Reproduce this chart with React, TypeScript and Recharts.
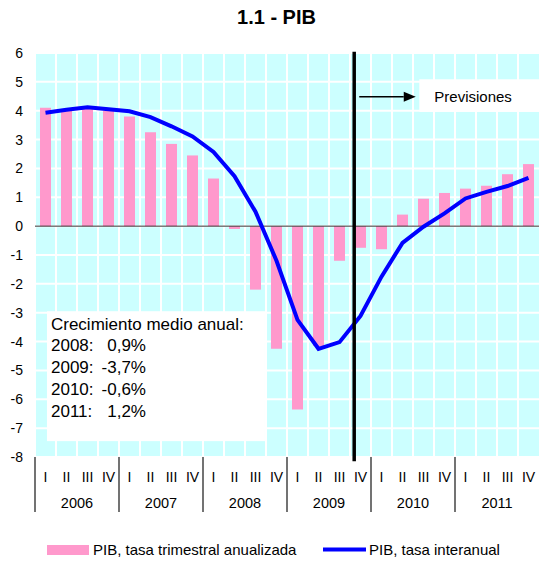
import React from 'react';
import {
  ComposedChart, Bar, Line, XAxis, YAxis, CartesianGrid,
  ReferenceLine, ReferenceArea,
} from 'recharts';

const FONT = '"Liberation Sans", Arial, Helvetica, sans-serif';
const BAR_COLOR  = '#FF99CC';   // tasa trimestral anualizada
const LINE_COLOR = '#0000FF';   // tasa interanual
const BG_COLOR   = '#CCFFFF';

// ── data ──────────────────────────────────────────────────────────────────────

const QUARTERS = ['I', 'II', 'III', 'IV'];
const YEARS = ['2006', '2007', '2008', '2009', '2010', '2011'];

const TRIMESTRAL = [
  4.1, 4.05, 4.1, 4.0,
  3.8, 3.25, 2.85, 2.45,
  1.65, -0.1, -2.2, -4.25,
  -6.35, -4.15, -1.2, -0.75,
  -0.8, 0.4, 0.95, 1.15,
  1.3, 1.4, 1.8, 2.15,
];

const INTERANUAL = [
  3.93, 4.03, 4.12, 4.05,
  3.98, 3.78, 3.46, 3.11,
  2.57, 1.73, 0.5, -1.2,
  -3.25, -4.25, -4.02, -3.11,
  -1.75, -0.58, -0.02, 0.44,
  0.96, 1.19, 1.39, 1.67,
];

const Y_TICKS = [6, 5, 4, 3, 2, 1, 0, -1, -2, -3, -4, -5, -6, -7, -8];

const ANNUAL_YEARS  = ['2008', '2009', '2010', '2011'];
const ANNUAL_GROWTH = ['0,9%', '-3,7%', '-0,6%', '1,2%'];

const SERIES_NAMES = ['PIB, tasa trimestral anualizada', 'PIB, tasa interanual'];

const data = YEARS.flatMap((y, yi) => QUARTERS.map((q, qi) => ({
  q: `${q} ${y}`,
  pos: yi * 4 + qi + 0.5,
  trim: TRIMESTRAL[yi * 4 + qi],
  inter: INTERANUAL[yi * 4 + qi],
})));

// numeric positions on the "num" axis (0 … 24 quarters)
const SEP_TICKS     = YEARS.map((_, i) => i * 4);
const QUARTER_TICKS = data.map(d => d.pos);
const YEAR_TICKS    = YEARS.map((_, i) => i * 4 + 2);
const PERIOD_TICKS  = [...SEP_TICKS, ...QUARTER_TICKS, ...YEAR_TICKS];

const FORECAST_X = 15.2;

// ── custom pieces ─────────────────────────────────────────────────────────────

function PeriodTick({ x, y, payload }: any) {
  const v = payload.value as number;
  if (v % 1 !== 0) {
    return (
      <text x={x} y={y + 24.5} textAnchor="middle" fontSize={14} fontFamily={FONT} fill="#000">
        {QUARTERS[Math.floor(v) % 4]}
      </text>
    );
  }
  if (v % 4 === 0) {
    return <line x1={x} x2={x} y1={y} y2={y + 55} stroke="#444" strokeWidth={1.5} />;
  }
  return (
    <text x={x} y={y + 50.5} textAnchor="middle" fontSize={14.5} fontFamily={FONT} fill="#000">
      {YEARS[(v - 2) / 4]}
    </text>
  );
}

const GrowthBox = (p: any) => (
  <g>
    <rect x={p.x} y={p.y} width={p.width} height={p.height} fill="#fff" />
    <text x={p.x + 4} y={p.y + 18.5} fontSize={17} fontFamily={FONT} fill="#000">
      Crecimiento medio anual:
    </text>
    {ANNUAL_YEARS.map((yr, i) => (
      <g key={yr}>
        <text x={p.x + 4} y={p.y + 40 + i * 22} fontSize={17} fontFamily={FONT} fill="#000">{yr}:</text>
        <text x={p.x + 99} y={p.y + 40 + i * 22} textAnchor="end" fontSize={17} fontFamily={FONT} fill="#000">
          {ANNUAL_GROWTH[i]}
        </text>
      </g>
    ))}
  </g>
);

const ForecastBox = (p: any) => (
  <g>
    <rect x={p.x} y={p.y} width={p.width} height={p.height} fill="#fff" />
    <text x={p.x + 15} y={p.y + 22.4} fontSize={15} fontFamily={FONT} fill="#000">Previsiones</text>
  </g>
);

const Arrow = (p: any) => (
  <g>
    <line x1={p.x1} y1={p.y1} x2={p.x2 - 12} y2={p.y2} stroke="#000" strokeWidth={1.5} />
    <polygon points={`${p.x2},${p.y2} ${p.x2 - 12},${p.y2 - 5} ${p.x2 - 12},${p.y2 + 5}`} fill="#000" />
  </g>
);

// ── component ─────────────────────────────────────────────────────────────────

export default function App() {
  return (
    <div style={{ position: 'absolute', left: 0, top: 0, width: 539, height: 563, background: '#fff' }}>
      <ComposedChart
        width={539}
        height={563}
        data={data}
        margin={{ top: 53, right: 0, bottom: 46, left: 0 }}
        barSize={11}
      >
        <text x={276.5} y={24} textAnchor="middle" fontSize={20} fontWeight="bold" fontFamily={FONT} fill="#000">
          1.1 - PIB
        </text>

        <CartesianGrid
          fill={BG_COLOR}
          fillOpacity={1}
          stroke="#fff"
          strokeWidth={2}
          verticalCoordinatesGenerator={({ offset }: any) =>
            data.map((_, i) => offset.left + (i * offset.width) / data.length)}
        />

        <XAxis dataKey="q" hide height={0} />
        <XAxis
          xAxisId="num"
          dataKey="pos"
          type="number"
          domain={[0, data.length]}
          ticks={PERIOD_TICKS}
          interval={0}
          axisLine={false}
          tickLine={false}
          tickSize={0}
          tickMargin={0}
          height={60}
          tick={<PeriodTick />}
          allowDataOverflow
        />
        <YAxis
          domain={[-8, 6]}
          ticks={Y_TICKS}
          interval={0}
          width={35}
          axisLine={false}
          tickLine={false}
          tickSize={0}
          tickMargin={12}
          tick={{ fontSize: 14, fill: '#000', fontFamily: FONT }}
        />

        <ReferenceArea xAxisId="num" x1={0.57} x2={10.95} y1={-7.45} y2={-2.95} ifOverflow="visible" shape={GrowthBox} />
        <ReferenceArea xAxisId="num" x1={18.3} x2={24} y1={3.96} y2={5.09} ifOverflow="visible" shape={ForecastBox} />

        <ReferenceLine y={0} stroke="#333" strokeWidth={1} />

        <Bar dataKey="trim" fill={BAR_COLOR} isAnimationActive={false} name={SERIES_NAMES[0]} />
        <Line
          type="linear"
          dataKey="inter"
          stroke={LINE_COLOR}
          strokeWidth={4}
          dot={false}
          activeDot={false}
          isAnimationActive={false}
          name={SERIES_NAMES[1]}
        />

        <ReferenceLine
          xAxisId="num"
          segment={[{ x: FORECAST_X, y: 6.04 }, { x: FORECAST_X, y: -8.15 }]}
          stroke="#000"
          strokeWidth={3.5}
          ifOverflow="visible"
        />
        <ReferenceLine
          xAxisId="num"
          segment={[{ x: 15.44, y: 4.48 }, { x: 18.13, y: 4.48 }]}
          ifOverflow="visible"
          shape={Arrow}
        />

        {/* legend */}
        <g fontFamily={FONT} fontSize={15} fill="#000">
          <rect x={47} y={545} width={42} height={10} fill={BAR_COLOR} />
          <text x={93} y={555}>{SERIES_NAMES[0]}</text>
          <line x1={323} x2={366} y1={549.5} y2={549.5} stroke={LINE_COLOR} strokeWidth={4} />
          <text x={369} y={555}>{SERIES_NAMES[1]}</text>
        </g>
      </ComposedChart>
    </div>
  );
}
